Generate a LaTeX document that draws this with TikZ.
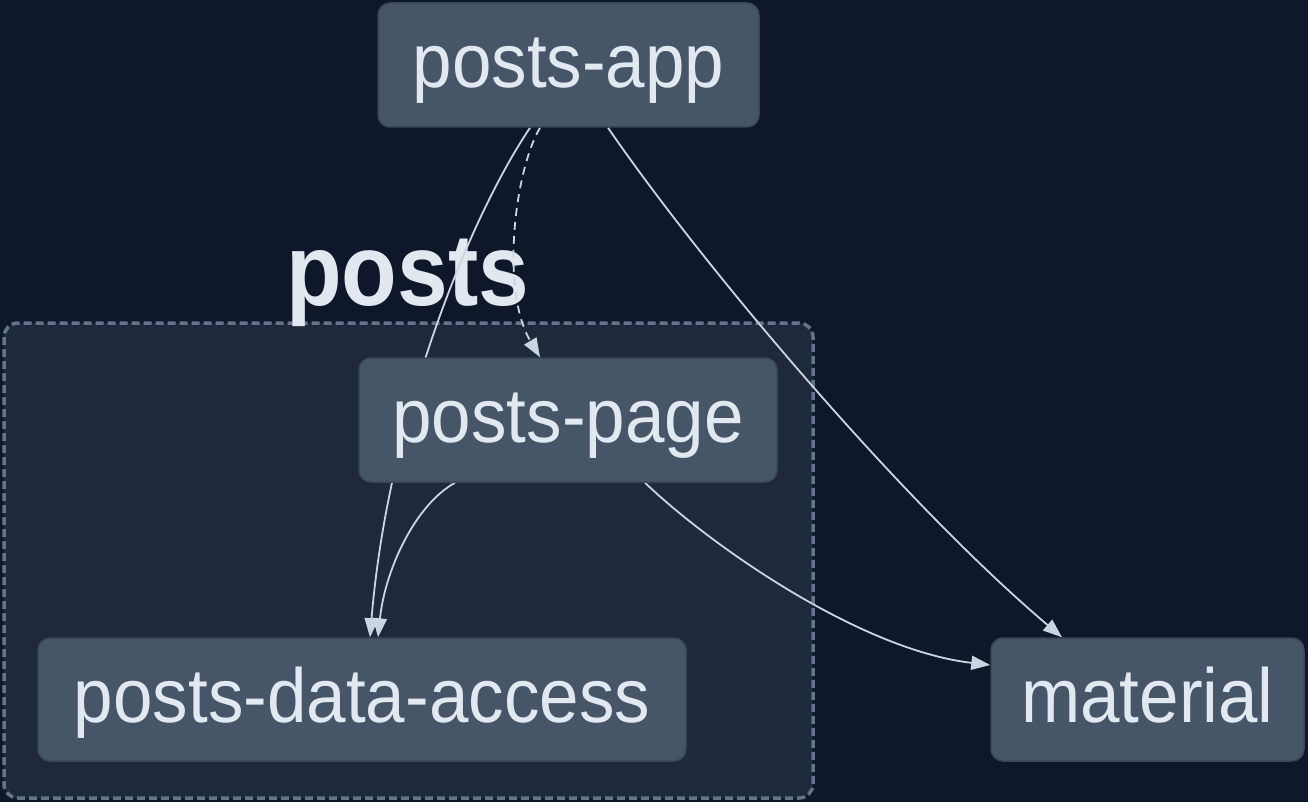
\documentclass[tikz,border=0pt]{standalone}
\usepackage{fontspec}
\setmainfont{Liberation Sans}
\usetikzlibrary{arrows.meta,calc}
\definecolor{bgc}{HTML}{0F172A}
\definecolor{clusterfill}{HTML}{1E293B}
\definecolor{clusterline}{HTML}{64748B}
\definecolor{nodefill}{HTML}{475569}
\definecolor{nodeline}{HTML}{3B4658}
\definecolor{textc}{HTML}{E2E8F0}
\definecolor{edgec}{HTML}{CBD5E1}
\pgfdeclarelayer{back}
\pgfdeclarelayer{edgelayer}
\pgfsetlayers{back,edgelayer,main}
\tikzset{
  pkg/.style={draw=nodeline, line width=1.5pt, fill=nodefill, rounded corners=12pt,
    inner sep=0pt, text=textc, font=\fontsize{71}{80}\selectfont,
    text height=60pt, text depth=15pt},
  clusterbox/.style={draw=clusterline, fill=clusterfill, line width=3.5pt,
    dash pattern=on 8pt off 4pt, rounded corners=14pt},
  clusterlabel/.style={inner sep=0pt, text=textc, font=\fontsize{91}{100}\selectfont\bfseries},
  dep/.style={draw=edgec, line width=1.8pt, -{Triangle[length=19pt,width=14pt]}},
  lazydep/.style={dep, dash pattern=on 8pt off 6pt}
}
\newcommand{\tallish}[2]{\scalebox{1}[#1]{#2}}
\begin{document}
\begin{tikzpicture}[x=1pt,y=-1pt]
\begin{pgfonlayer}{back}
  \fill[bgc] (0,0) rectangle (1308,802);
  \draw[clusterbox] (4,323) rectangle (813,798);
  \node[clusterlabel, anchor=base west] (lbl) at (286,305) {\tallish{1.12}{posts}};
\end{pgfonlayer}
\useasboundingbox (0,0) rectangle (1308,802);

\node[pkg, minimum width=381pt, minimum height=124pt] (app) at (568.5,65) {\tallish{1.08}{posts-app}};
\node[pkg, minimum width=418pt, minimum height=124pt] (page) at (568,420) {\tallish{1.08}{posts-page}};
\node[pkg, minimum width=648pt, minimum height=123pt] (dao) at (362,699.5) {\tallish{1.08}{posts-data-access}};
\node[pkg, minimum width=313pt, minimum height=123pt] (mat) at (1147.5,699.5) {\tallish{1.08}{material}};

\begin{pgfonlayer}{edgelayer}
  \draw[lazydep] ([xshift=-28.5pt]app.south) .. controls (515,170) and (500,290) .. ([xshift=-28pt]page.north);
  \draw[dep] ([xshift=-38.5pt]app.south) .. controls (468,220) and (388,420) .. ([xshift=8pt]dao.north);
  \draw[dep] ([xshift=39.5pt]app.south) .. controls (700,262) and (900,500) .. ([xshift=-85.5pt]mat.north);
  \draw[dep] ([xshift=-113pt]page.south) .. controls (415,505) and (385,570) .. ([xshift=16pt]dao.north);
  \draw[dep] ([xshift=77pt]page.south) .. controls (710,545) and (860,650) .. ([yshift=34.5pt]mat.west);
\end{pgfonlayer}
\end{tikzpicture}
\end{document}
